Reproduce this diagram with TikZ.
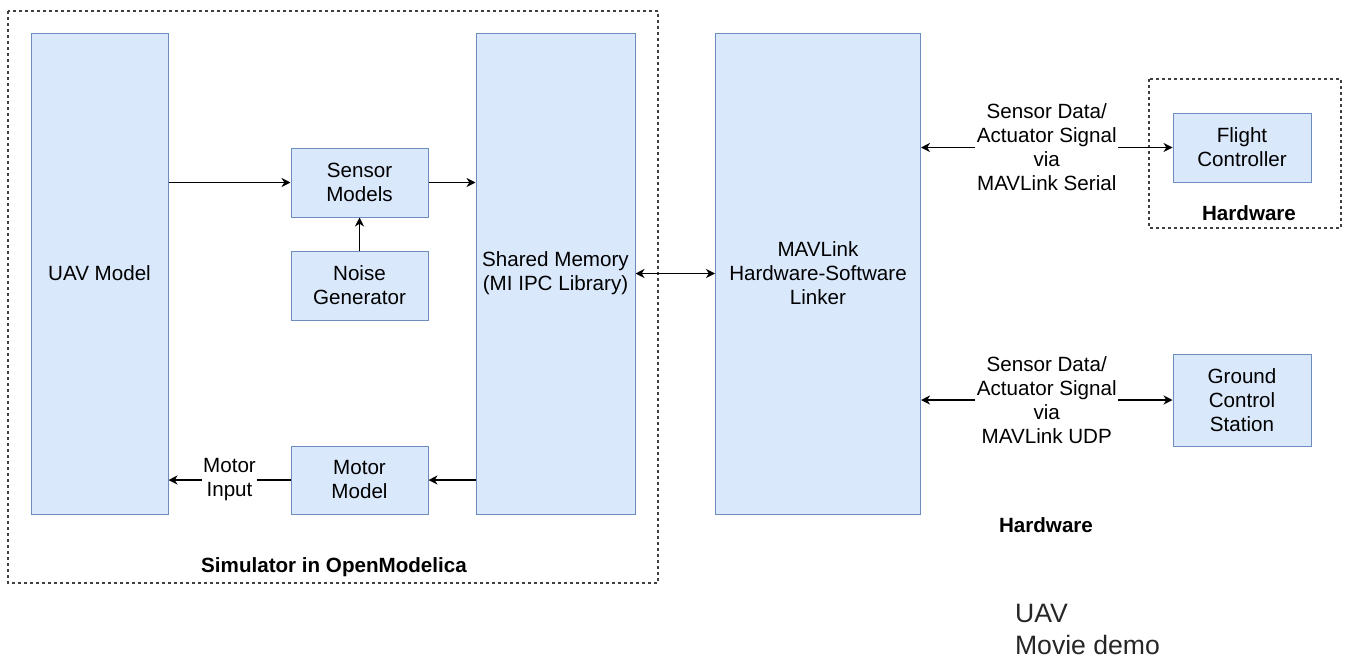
\documentclass[tikz,border=0pt]{standalone}
\usepackage{fontspec}
\setmainfont{Liberation Sans}
\usepackage{xcolor}
\usepackage{tikz}
\usetikzlibrary{arrows.meta, positioning, calc}
\definecolor{boxfill}{HTML}{DAE8FC}
\definecolor{boxline}{HTML}{6C8EBF}

\begin{document}
\begin{tikzpicture}[x=0.5pt, y=-0.5pt,
    blk/.style={draw=boxline, fill=boxfill, line width=0.5pt, align=center, inner sep=0pt, font=\fontsize{10.3}{12}\selectfont},
    link/.style={-{Stealth[length=4.5pt, width=4.5pt, inset=1.4pt]}, line width=0.7pt},
    dlink/.style={{Stealth[length=4.5pt, width=4.5pt, inset=1.4pt]}-{Stealth[length=4.5pt, width=4.5pt, inset=1.4pt]}, line width=0.7pt},
    lbl/.style={fill=white, inner sep=0.8pt, align=center, font=\fontsize{10.3}{12}\selectfont},
    grp/.style={draw=black!75, line width=0.6pt, dash pattern=on 1.5pt off 1.5pt},
    grptitle/.style={font=\fontsize{10.3}{12}\selectfont\bfseries}]
    \useasboundingbox (0,0) rectangle (1348,659);

    % groups
    \draw[grp] (8,11) rectangle (658,583);
    \draw[grp] (1149,79) rectangle (1341,228);
    \node[grptitle] (simtitle) at (334,567) {Simulator in OpenModelica};
    \node[grptitle] (hwtitle) at (1249,213) {Hardware};
    \node[grptitle] (hwtext) at (1046,525) {Hardware};

    % simulator
    \node[blk, minimum width=68.5pt, minimum height=240.5pt] (uav) at (99.5,273.5) {UAV Model};
    \node[blk, minimum width=68.5pt, minimum height=34.5pt] (sensor) at (359.5,182.5) {Sensor\\Models};
    \node[blk, minimum width=68.5pt, minimum height=34.5pt] (noise) at (359.5,285.5) {Noise\\Generator};
    \node[blk, minimum width=68.5pt, minimum height=34pt] (motor) at (359.5,480) {Motor\\Model};
    \node[blk, minimum width=79.5pt, minimum height=240.5pt] (shm) at (555.5,273.5) {Shared Memory\\(MI IPC Library)};

    % linker and hardware
    \node[blk, minimum width=102.5pt, minimum height=240.5pt] (mav) at (818,273.5) {MAVLink\\Hardware-Software\\Linker};
    \node[blk, minimum width=69pt, minimum height=34.5pt] (fc) at (1242,147.5) {Flight\\Controller};
    \node[blk, minimum width=69pt, minimum height=46pt] (gcs) at (1242,400) {Ground\\Control\\Station};

    \draw[link] (uav.east |- sensor) -- (sensor);
    \draw[link] (sensor) -- (sensor -| shm.west);
    \draw[link] (noise) -- (sensor);
    \draw[link] (motor -| shm.west) -- (motor);
    \draw[link] (motor) -- node[lbl] {Motor\\Input} (motor -| uav.east);
    \draw[dlink] (shm) -- (mav);

    \draw[dlink] (mav.east |- fc) -- node[lbl] {Sensor Data/\\Actuator Signal\\via\\MAVLink Serial} (fc);
    \draw[dlink] (mav.east |- gcs) -- node[lbl] {Sensor Data/\\Actuator Signal\\via\\MAVLink UDP} (gcs);

    \node[anchor=west, align=left, text=black!85, font=\fontsize{13.3}{16}\selectfont] (demo) at (1008,629) {UAV\\Movie demo};
\end{tikzpicture}
\end{document}
